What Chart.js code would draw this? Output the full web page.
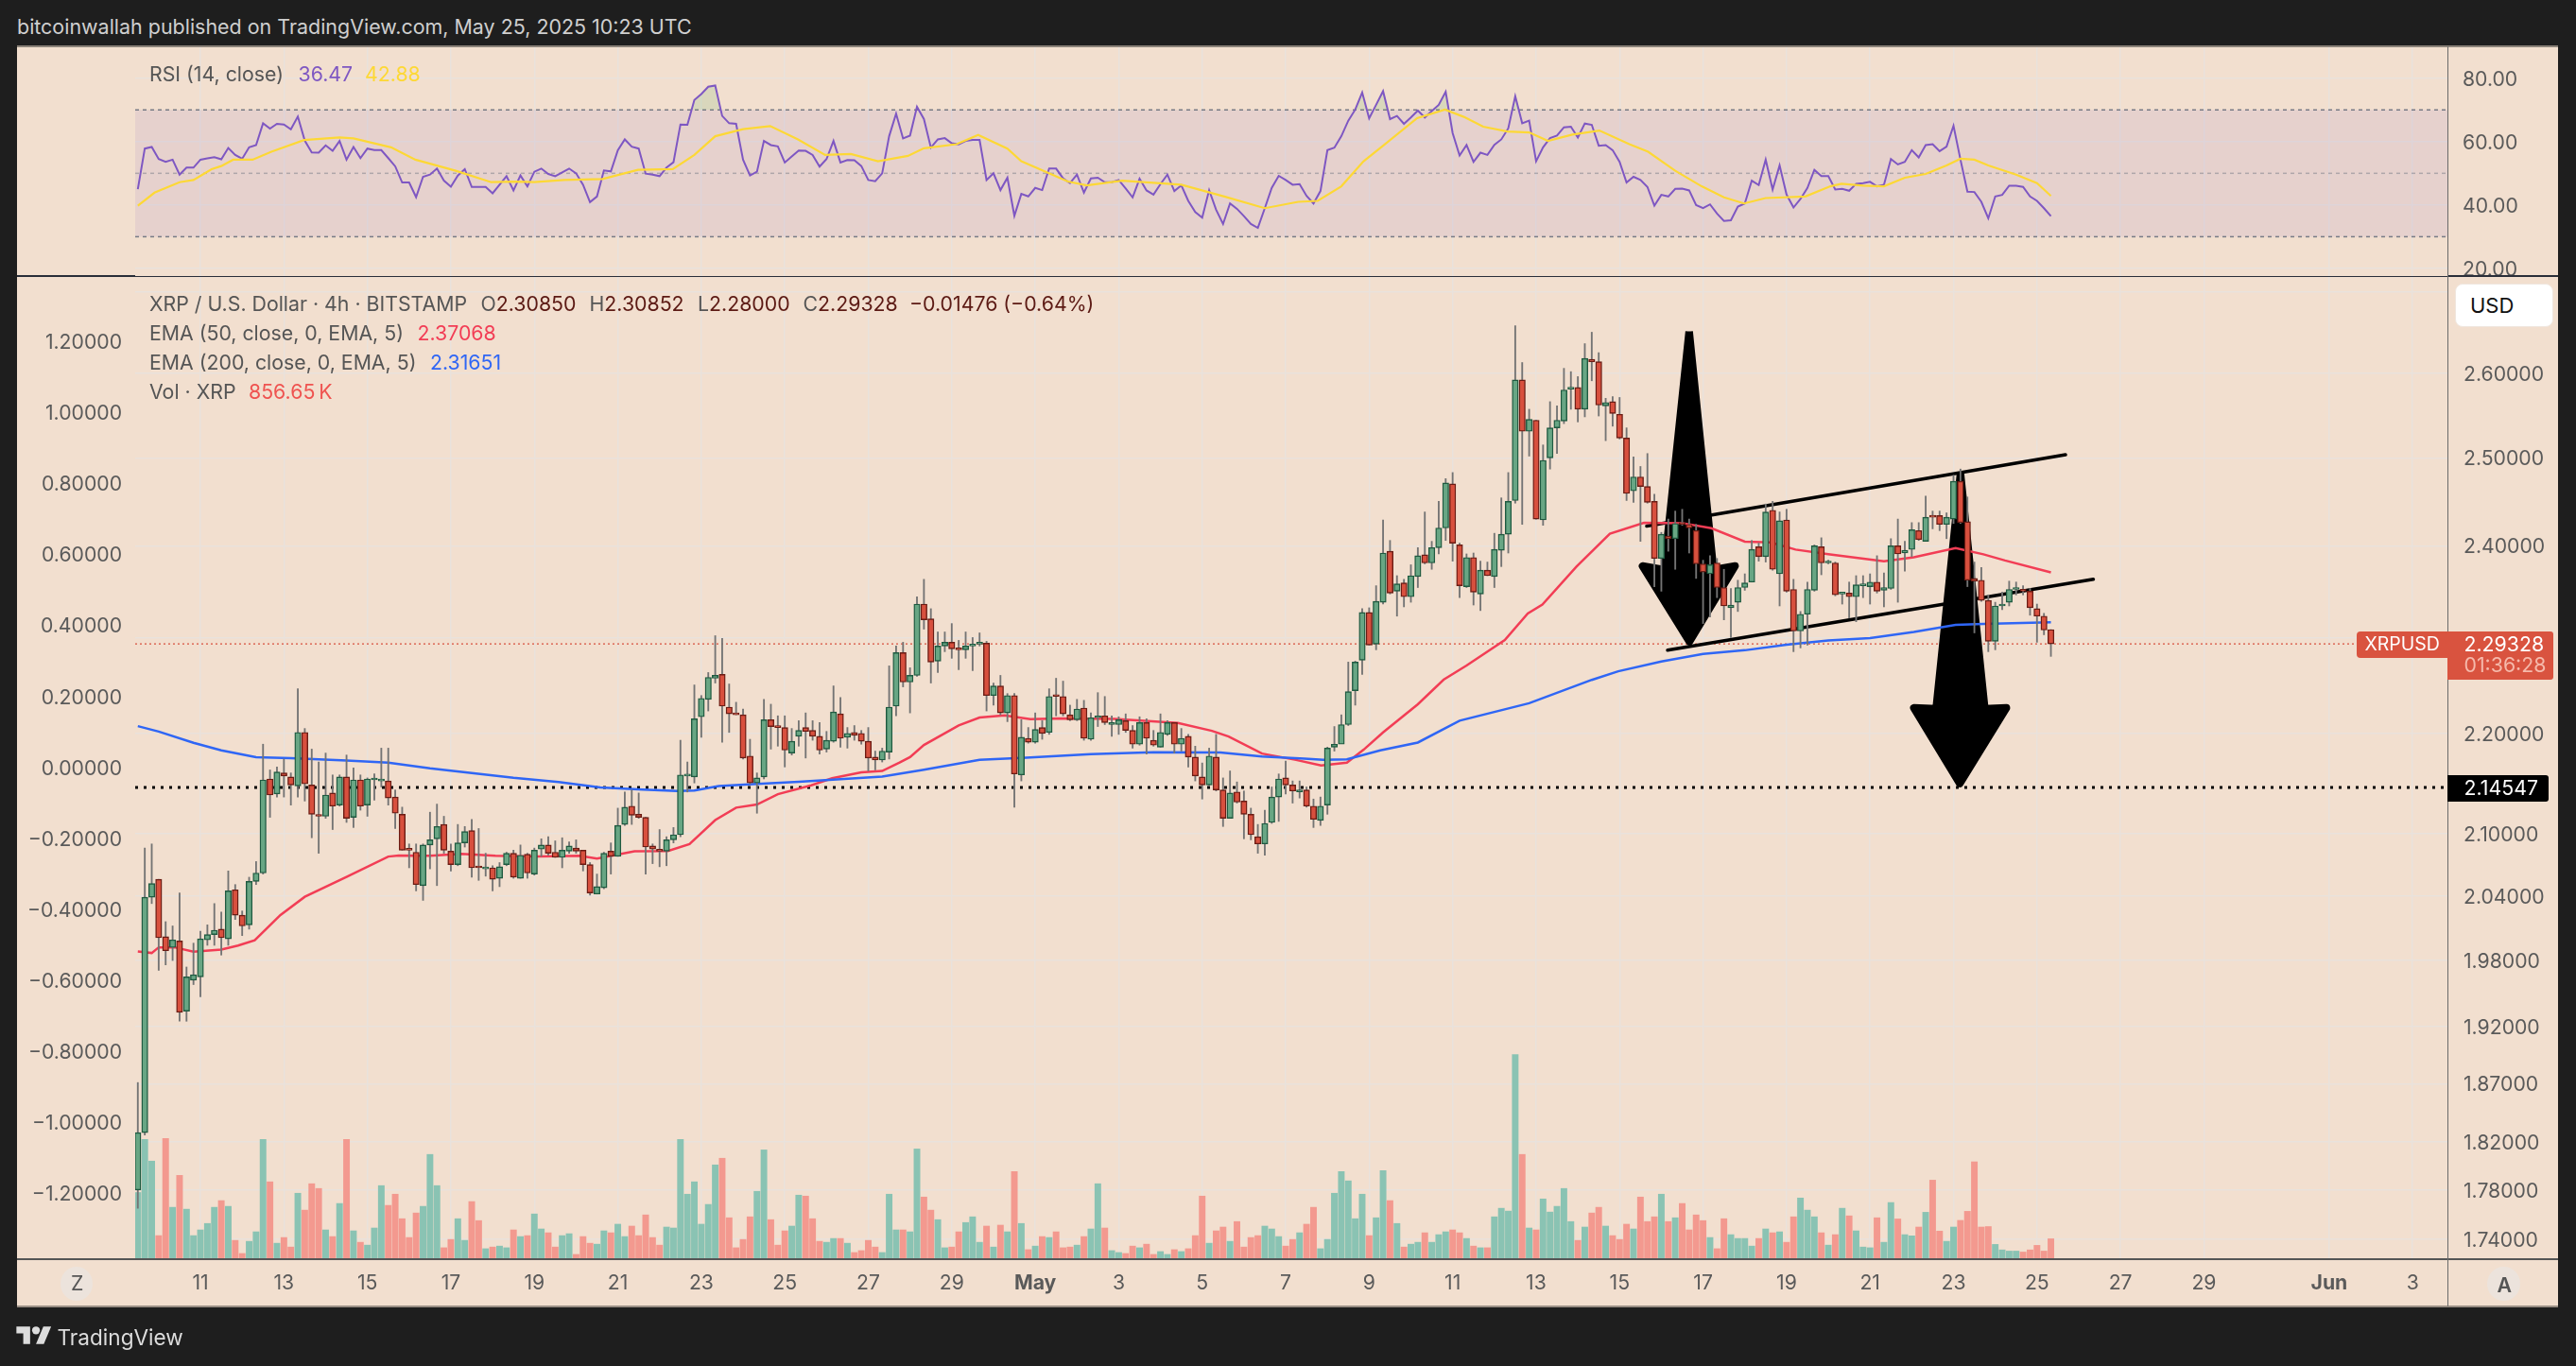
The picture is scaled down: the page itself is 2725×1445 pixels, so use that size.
<!doctype html>
<html><head><meta charset="utf-8">
<script src="https://cdn.jsdelivr.net/npm/chart.js@4/dist/chart.umd.js"></script>
<style>
html,body{margin:0;padding:0;background:#1e1e1e;width:2725px;height:1445px;overflow:hidden;font-family:Inter,"Noto Sans",sans-serif}
#panel{position:absolute;left:18px;top:49px;width:2688px;height:1333px;background:#f2dfcf}
canvas{position:absolute;display:block}
.t{position:absolute;white-space:pre;transform:translateY(-50%);line-height:1;font-size:21.3px;color:#555}
.l{position:absolute}
</style></head><body>
<div id="panel"></div>
<canvas id="rsiCanvas" width="2688" height="243" style="left:18px;top:49px;width:2688px;height:243px"></canvas>
<canvas id="mainCanvas" width="2688" height="1090" style="left:18px;top:292px;width:2688px;height:1090px"></canvas>
<div id="overlay"></div>
<script>
// ---------- data (4h bars, first bar 9 Apr 12:00 UTC) ----------
const open=[1.780,1.828,2.039,2.056,2.002,1.992,1.998,1.934,1.962,1.965,
1.999,2.004,2.009,2.000,2.046,2.022,2.013,2.054,2.062,2.154,
2.139,2.160,2.156,2.147,2.201,2.148,2.118,2.117,2.140,2.128,
2.156,2.116,2.153,2.128,2.153,2.152,2.152,2.136,2.119,2.085,
2.082,2.050,2.089,2.095,2.109,2.083,2.070,2.091,2.103,2.068,
2.066,2.067,2.057,2.070,2.081,2.057,2.080,2.061,2.085,2.089,
2.082,2.077,2.083,2.086,2.084,2.070,2.042,2.048,2.083,2.078,
2.109,2.127,2.119,2.116,2.088,2.085,2.083,2.094,2.099,2.157,
2.156,2.217,2.235,2.257,2.261,2.227,2.220,2.219,2.177,2.150,
2.156,2.214,2.208,2.206,2.180,2.197,2.206,2.203,2.197,2.184,
2.192,2.220,2.196,2.201,2.200,2.192,2.176,2.173,2.181,2.228,
2.284,2.253,2.260,2.336,2.320,2.275,2.291,2.295,2.289,2.287,
2.291,2.293,2.294,2.239,2.249,2.221,2.239,2.158,2.195,2.191,
2.206,2.201,2.239,2.238,2.219,2.214,2.226,2.194,2.216,2.218,
2.209,2.209,2.213,2.203,2.189,2.211,2.193,2.186,2.199,2.211,
2.189,2.197,2.176,2.156,2.148,2.176,2.143,2.115,2.141,2.132,
2.119,2.097,2.090,2.111,2.136,2.155,2.148,2.141,2.143,2.127,
2.113,2.128,2.186,2.189,2.209,2.244,2.276,2.327,2.293,2.338,
2.394,2.350,2.359,2.344,2.366,2.390,2.381,2.398,2.420,2.470,
2.401,2.355,2.387,2.347,2.373,2.366,2.395,2.413,2.451,2.592,
2.531,2.544,2.429,2.500,2.535,2.543,2.581,2.583,2.557,2.617,
2.614,2.561,2.566,2.551,2.523,2.462,2.478,2.467,2.450,2.386,
2.411,2.408,2.426,2.424,2.417,2.380,2.369,2.381,2.354,2.332,
2.338,2.354,2.360,2.399,2.388,2.440,2.369,2.429,2.352,2.307,
2.325,2.351,2.399,2.381,2.381,2.347,2.348,2.344,2.356,2.355,
2.360,2.351,2.353,2.400,2.392,2.396,2.417,2.405,2.433,2.434,
2.424,2.430,2.473,2.427,2.364,2.362,2.340,2.296,2.334,2.338,
2.352,2.352,2.350,2.331,2.323,2.3085];
const high=[1.871,2.086,2.090,2.056,2.016,2.012,2.043,1.974,1.996,2.007,
2.013,2.033,2.025,2.064,2.051,2.026,2.058,2.073,2.189,2.163,
2.166,2.174,2.160,2.246,2.205,2.184,2.171,2.180,2.158,2.158,
2.178,2.165,2.158,2.155,2.159,2.185,2.185,2.143,2.126,2.090,
2.090,2.090,2.121,2.129,2.117,2.090,2.109,2.107,2.114,2.105,
2.081,2.069,2.072,2.082,2.084,2.089,2.081,2.086,2.095,2.097,
2.093,2.096,2.092,2.094,2.084,2.072,2.061,2.082,2.091,2.125,
2.141,2.143,2.140,2.116,2.090,2.104,2.097,2.106,2.193,2.171,
2.250,2.239,2.263,2.302,2.299,2.251,2.232,2.225,2.194,2.160,
2.235,2.230,2.218,2.218,2.205,2.213,2.221,2.213,2.211,2.202,
2.249,2.237,2.206,2.208,2.203,2.206,2.182,2.185,2.270,2.291,
2.295,2.268,2.344,2.363,2.331,2.306,2.306,2.315,2.297,2.306,
2.300,2.305,2.296,2.252,2.260,2.241,2.241,2.214,2.206,2.221,
2.213,2.246,2.257,2.254,2.229,2.235,2.234,2.221,2.242,2.238,
2.218,2.217,2.220,2.208,2.217,2.215,2.203,2.220,2.213,2.211,
2.205,2.199,2.187,2.170,2.185,2.199,2.155,2.162,2.151,2.142,
2.125,2.109,2.123,2.146,2.159,2.172,2.152,2.152,2.146,2.134,
2.136,2.186,2.207,2.219,2.274,2.275,2.331,2.332,2.356,2.429,
2.406,2.367,2.363,2.379,2.398,2.438,2.405,2.450,2.476,2.483,
2.403,2.391,2.392,2.383,2.382,2.414,2.454,2.483,2.658,2.613,
2.557,2.544,2.515,2.566,2.561,2.606,2.602,2.596,2.636,2.650,
2.625,2.570,2.572,2.571,2.535,2.501,2.490,2.505,2.458,2.415,
2.430,2.439,2.441,2.430,2.424,2.384,2.389,2.386,2.374,2.353,
2.362,2.369,2.406,2.403,2.447,2.450,2.438,2.441,2.363,2.328,
2.360,2.401,2.409,2.384,2.382,2.348,2.360,2.367,2.367,2.369,
2.389,2.370,2.408,2.430,2.405,2.426,2.426,2.456,2.439,2.439,
2.437,2.480,2.487,2.455,2.382,2.376,2.346,2.338,2.349,2.361,
2.360,2.356,2.353,2.336,2.326,2.3085];
const low=[1.765,1.826,2.033,1.971,1.976,1.980,1.925,1.925,1.958,1.947,
1.994,1.994,1.985,1.994,2.018,2.003,2.009,2.051,2.061,2.116,
2.136,2.136,2.128,2.136,2.132,2.096,2.081,2.115,2.104,2.127,
2.111,2.106,2.123,2.117,2.133,2.146,2.128,2.105,2.084,2.067,
2.045,2.036,2.066,2.050,2.081,2.064,2.069,2.087,2.058,2.055,
2.059,2.045,2.049,2.069,2.057,2.057,2.057,2.060,2.078,2.079,
2.077,2.067,2.081,2.081,2.064,2.041,2.042,2.047,2.061,2.078,
2.108,2.109,2.115,2.061,2.071,2.068,2.069,2.091,2.097,2.141,
2.150,2.196,2.223,2.252,2.191,2.201,2.219,2.174,2.149,2.120,
2.154,2.184,2.187,2.166,2.178,2.187,2.175,2.193,2.179,2.181,
2.191,2.186,2.185,2.193,2.189,2.162,2.163,2.171,2.174,2.218,
2.248,2.221,2.259,2.309,2.252,2.263,2.285,2.278,2.266,2.278,
2.265,2.291,2.223,2.229,2.219,2.212,2.126,2.152,2.190,2.190,
2.194,2.199,2.218,2.218,2.213,2.213,2.193,2.193,2.207,2.209,
2.197,2.199,2.201,2.185,2.188,2.179,2.187,2.186,2.198,2.180,
2.182,2.166,2.152,2.134,2.147,2.142,2.107,2.115,2.130,2.095,
2.094,2.081,2.079,2.110,2.112,2.139,2.130,2.135,2.126,2.106,
2.108,2.119,2.182,2.203,2.208,2.229,2.261,2.292,2.287,2.336,
2.347,2.323,2.333,2.338,2.354,2.380,2.374,2.391,2.406,2.383,
2.343,2.354,2.335,2.329,2.367,2.354,2.377,2.392,2.448,2.424,
2.502,2.430,2.423,2.487,2.505,2.540,2.557,2.542,2.548,2.591,
2.549,2.520,2.537,2.522,2.451,2.449,2.405,2.448,2.355,2.350,
2.394,2.374,2.423,2.392,2.364,2.315,2.322,2.343,2.319,2.300,
2.328,2.351,2.360,2.383,2.382,2.373,2.334,2.349,2.285,2.289,
2.292,2.350,2.368,2.380,2.345,2.336,2.321,2.317,2.343,2.336,
2.348,2.333,2.352,2.338,2.372,2.388,2.406,2.405,2.419,2.417,
2.408,2.425,2.425,2.355,2.305,2.339,2.285,2.287,2.330,2.334,
2.346,2.346,2.324,2.295,2.303,2.280];
const close=[1.828,2.039,2.052,2.001,1.989,1.999,1.933,1.965,1.967,2.000,
2.004,2.008,2.001,2.045,2.022,2.012,2.054,2.062,2.153,2.138,
2.161,2.157,2.148,2.201,2.149,2.119,2.117,2.138,2.127,2.156,
2.115,2.153,2.127,2.154,2.153,2.153,2.135,2.120,2.084,2.084,
2.051,2.089,2.094,2.107,2.084,2.070,2.091,2.102,2.067,2.067,
2.067,2.056,2.068,2.081,2.058,2.079,2.062,2.084,2.089,2.081,
2.077,2.084,2.088,2.083,2.070,2.043,2.049,2.081,2.078,2.108,
2.126,2.118,2.116,2.087,2.085,2.083,2.094,2.099,2.158,2.157,
2.215,2.236,2.258,2.260,2.228,2.220,2.219,2.175,2.150,2.155,
2.214,2.207,2.206,2.183,2.192,2.203,2.202,2.197,2.183,2.193,
2.222,2.195,2.200,2.198,2.192,2.175,2.173,2.182,2.227,2.284,
2.253,2.260,2.336,2.319,2.274,2.291,2.295,2.288,2.287,2.291,
2.293,2.293,2.239,2.249,2.221,2.239,2.159,2.196,2.191,2.204,
2.200,2.238,2.238,2.220,2.214,2.225,2.195,2.216,2.218,2.211,
2.211,2.214,2.203,2.189,2.211,2.195,2.188,2.201,2.211,2.189,
2.195,2.176,2.157,2.148,2.177,2.143,2.115,2.140,2.131,2.119,
2.099,2.090,2.110,2.136,2.154,2.148,2.142,2.143,2.127,2.114,
2.127,2.185,2.189,2.209,2.243,2.274,2.327,2.292,2.339,2.392,
2.348,2.358,2.344,2.367,2.389,2.381,2.398,2.420,2.471,2.403,
2.356,2.387,2.349,2.373,2.367,2.396,2.413,2.450,2.592,2.531,
2.545,2.430,2.497,2.535,2.544,2.580,2.582,2.557,2.618,2.614,
2.562,2.565,2.552,2.523,2.459,2.478,2.467,2.449,2.386,2.413,
2.408,2.425,2.424,2.420,2.380,2.371,2.379,2.354,2.334,2.335,
2.354,2.359,2.396,2.388,2.438,2.374,2.428,2.350,2.307,2.325,
2.352,2.400,2.381,2.381,2.346,2.348,2.344,2.357,2.357,2.360,
2.350,2.354,2.400,2.391,2.395,2.418,2.407,2.432,2.432,2.424,
2.432,2.473,2.426,2.362,2.361,2.340,2.296,2.334,2.336,2.352,
2.353,2.350,2.332,2.323,2.308,2.29328];
// volume, millions of XRP
const volume=[2.80,5.03,4.12,0.99,5.07,2.18,3.52,2.10,0.99,1.23,
1.50,2.18,2.46,2.22,0.79,0.24,0.75,1.15,5.03,3.25,
0.67,0.91,0.51,2.77,2.06,3.17,2.97,1.23,0.95,2.34,
5.03,1.19,0.71,0.59,1.31,3.09,2.26,2.73,1.70,0.91,
1.94,2.22,4.40,3.09,0.48,0.83,1.70,0.79,2.42,1.62,
0.44,0.51,0.55,0.48,1.23,0.95,0.99,1.90,1.27,1.11,
0.51,0.99,1.07,0.20,0.95,0.67,0.63,1.19,1.11,1.47,
0.95,1.39,0.99,1.86,0.91,0.59,1.35,1.31,5.03,2.73,
3.25,1.47,2.30,3.96,4.24,1.74,0.48,0.83,1.78,2.85,
4.59,1.66,0.59,1.19,1.39,2.69,2.65,1.70,0.75,0.71,
0.87,0.87,0.67,0.28,0.36,0.79,0.51,0.28,2.73,1.23,
1.23,1.15,4.63,2.61,2.06,1.66,0.48,0.51,1.15,1.54,
1.78,0.71,1.39,0.51,1.43,1.15,3.68,1.50,0.40,0.55,
0.95,0.91,1.15,0.48,0.51,0.59,0.95,1.27,3.17,1.31,
0.36,0.28,0.24,0.55,0.48,0.63,0.20,0.32,0.20,0.40,
0.32,0.44,0.99,2.65,0.67,1.19,1.35,0.75,1.58,0.51,
0.91,0.99,1.39,1.27,0.95,0.55,0.83,1.11,1.47,2.18,
0.44,0.83,2.77,3.68,3.29,1.70,2.73,0.99,1.74,3.72,
2.46,1.50,0.51,0.63,0.71,1.11,0.71,1.03,1.15,1.23,
1.11,0.87,0.55,0.48,0.48,1.78,2.14,2.02,8.59,4.40,
1.31,1.23,2.53,1.98,2.22,2.97,1.58,0.79,1.35,1.94,
2.18,1.39,0.99,0.83,1.47,1.27,2.61,1.58,1.78,2.73,
1.58,1.74,2.34,1.23,1.86,1.62,0.91,0.44,1.70,1.03,
0.87,0.87,0.55,0.87,1.27,1.11,1.15,0.71,1.78,2.57,
2.06,1.78,1.11,0.59,1.03,2.14,1.82,1.19,0.51,0.48,
1.74,0.71,2.38,1.69,1.03,0.98,1.35,1.97,3.32,1.18,
0.75,1.35,1.63,2.01,4.09,1.35,1.37,0.62,0.39,0.34,
0.34,0.30,0.39,0.58,0.34,0.857];
const rsi=[45.0,57.8,58.3,54.5,53.6,54.3,49.6,51.8,51.8,54.3,
54.7,55.1,54.4,58.0,55.8,54.6,58.2,58.9,65.8,64.1,
65.6,65.4,63.9,67.9,60.3,56.6,56.5,58.8,57.1,60.2,
54.3,58.3,54.8,57.8,57.3,57.3,54.8,52.2,47.1,47.1,
42.5,48.9,49.6,51.5,47.7,45.8,49.3,51.3,45.7,45.7,
45.7,43.7,46.4,49.1,44.6,49.3,45.9,50.5,51.5,49.8,
49.1,50.3,51.5,50.0,46.4,40.9,42.7,50.9,50.6,57.3,
60.7,58.4,57.8,49.9,49.6,49.1,51.8,53.5,65.4,65.3,
73.1,75.0,77.3,77.7,68.1,65.8,65.6,54.3,49.3,50.5,
60.2,58.9,58.5,53.4,55.3,57.2,57.1,55.8,52.1,54.5,
60.2,53.4,54.2,54.1,52.3,47.9,47.5,50.0,61.7,68.8,
61.0,61.9,71.0,67.1,58.1,60.7,61.1,59.5,59.1,60.2,
60.5,60.5,47.9,50.0,44.7,48.6,36.6,43.5,42.7,45.4,
44.7,51.5,51.5,48.4,46.9,49.6,43.9,48.4,48.6,47.2,
47.2,47.9,45.2,42.4,48.3,44.6,43.3,46.6,49.6,44.4,
46.2,41.3,37.8,36.0,44.7,38.5,34.0,40.5,38.8,36.5,
34.0,32.8,39.0,45.4,49.2,47.9,46.4,46.6,42.9,40.5,
44.4,57.3,58.1,61.7,66.6,70.1,75.5,67.3,71.6,75.9,
67.1,68.1,65.6,67.6,69.8,67.6,69.6,71.6,75.7,62.7,
55.6,58.9,53.6,56.5,55.8,59.0,60.7,64.2,74.3,65.8,
66.6,53.8,58.2,61.1,61.9,64.5,64.7,61.3,65.7,65.3,
58.7,58.9,57.3,53.6,47.1,48.9,47.9,45.7,39.8,43.2,
42.7,45.1,45.2,44.6,40.0,39.0,40.2,37.3,35.0,35.2,
39.5,40.5,47.7,46.3,54.3,44.9,52.5,43.3,39.2,41.9,
45.4,51.1,49.1,49.1,44.9,45.1,44.5,46.7,46.9,47.3,
45.9,46.4,54.5,52.8,53.6,57.3,55.0,58.9,59.2,57.0,
58.4,65.0,54.3,44.2,44.1,41.0,35.8,42.7,43.2,46.1,
46.1,45.7,42.7,41.3,39.0,36.47];
// lines read at their turning points: bar index + value
const rsiMaBar=[0,2.4,6,8,10.6,12,13.7,16.5,19.2,23.9,29,31,36.4,39.9,45.7,50.8,54.3,57,61.3,66.8,71.9,76.9,80,83,87,90.9,94.9,98.8,102.5,106.4,110.7,113,117.7,120.8,125,127,133.7,136.4,141.5,150,156.3,162,166.8,169.6,173,176.2,179.3,183.9,187.9,190.6,193.4,196.9,200,202.7,206.2,210.1,214.4,217.1,221,224.8,228,230.9,234,239.7,243.3,244.9,248,251,254,257,260,262,264,266,270,273,275];
const rsiMa=[39.8,43.9,47.2,47.9,51.3,52.3,54.3,54.3,56.8,60.5,61.3,61,58.2,54.3,50.8,47.2,47.4,47.2,47.9,48.2,51.1,51.3,55.8,61.7,63.9,64.9,60.7,55.8,56.1,53.8,55.5,57.9,59.2,62.1,57.8,53.8,47.4,46.2,47.7,46.4,42.6,39,41,41.3,45.9,53.8,59.2,67.4,70.1,67.8,64.7,63.2,62.9,60.2,62.2,63.5,59.2,56.8,50.8,45.9,42.4,40.5,42.2,42.7,45.9,46.7,46.1,45.9,48.6,49.8,52.5,54.6,54.3,52.5,49.6,46.9,42.88];
const ema200Bar=[0,3,8,12,17,22,30,36,42,48,54,60.5,66.5,72.6,77.5,80,83.5,88.4,95,107,113,121,127.7,137,146,155.6,161.6,167.7,170.4,173.8,178.6,184,190,200,209,212.8,219,225,231,237,243,249,255.3,261.3,265.3,275];
const ema200=[2.2074,2.2019,2.1904,2.1828,2.1758,2.1749,2.1726,2.1704,2.1647,2.1600,2.1551,2.1510,2.1456,2.1434,2.1419,2.1425,2.1469,2.1488,2.1512,2.1564,2.1632,2.1731,2.1754,2.1789,2.1808,2.1805,2.1766,2.1743,2.1731,2.1737,2.1827,2.1907,2.2130,2.2310,2.2553,2.2643,2.2747,2.2825,2.2865,2.2925,2.2968,2.2995,2.3060,2.3137,2.3147,2.31651];
const ema50Bar=[0,2,3,5.3,8,12,14.4,16.8,20.5,24,30,36,37.5,42,46.5,51.4,57.4,63.5,66,71.4,76.2,79.3,83,86,89,92,96.8,99.8,104,107,109.5,111,113,118,121,124.6,128.3,132.5,140.4,149.5,154.4,156.8,161.6,166.5,170.1,173.8,176.2,179,184,187.7,191,196.5,199.8,201.9,206.8,211.6,216.5,222,226.2,231,234.7,238.3,243,251,255.3,261.3,265.3,268.4,275];
const ema50=[1.9884,1.9869,1.9921,1.9921,1.9881,1.9901,1.9938,1.9987,2.0222,2.0394,2.0583,2.0778,2.0787,2.0785,2.0803,2.0785,2.0778,2.0785,2.0758,2.0829,2.0832,2.0899,2.1133,2.1255,2.1286,2.1388,2.1476,2.1547,2.1605,2.1620,2.1704,2.1759,2.1882,2.2082,2.2163,2.2185,2.2145,2.2154,2.2148,2.2106,2.2026,2.1968,2.1795,2.1731,2.1674,2.1704,2.1834,2.2010,2.2299,2.2555,2.2704,2.2974,2.3258,2.3355,2.3769,2.4136,2.4257,2.4254,2.4197,2.4047,2.4039,2.3958,2.3906,2.3828,2.3872,2.3975,2.3906,2.3838,2.37068];
const targetPrice=2.14547, lastPrice=2.29328;
const channelUpBar=[216.9,277.1], channelUp=[2.4221,2.5036];
const channelLowBar=[219.9,281.1], channelLow=[2.2866,2.3630];
const arrow1Bar=[223.0,226.5,229.6,223.05,216.3,219.4,223.0], arrow1=[2.651,2.3734,2.3776,2.2956,2.3776,2.3734,2.651];
const arrow2Bar=[262.0,265.5,268.6,261.9,255.3,258.5,262.0], arrow2=[2.482,2.2252,2.2262,2.1494,2.2262,2.2252,2.482];
const priceTicks=[2.7,2.6,2.5,2.4,2.3,2.2,2.1,2.04,1.98,1.92,1.87,1.82,1.78,1.74];
const hiddenPriceLabels=[2.7,2.3]; // covered by the USD box and the last-price tag in the picture
const leftTicks=[1.2,1,0.8,0.6,0.4,0.2,0,-0.2,-0.4,-0.6,-0.8,-1,-1.2];
const rsiTicks=[80,60,40,20];
const timeTickBars=[9,21,33,45,57,69,81,93,105,117,129,141,153,165,177,189,201,213,225,237,249,261,273,285,297,315,327];
const timeTickLabels=['11','13','15','17','19','21','23','25','27','29','May','3','5','7','9','11','13','15','17','19','21','23','25','27','29','Jun','3'];

// ---------- styling ----------
Chart.defaults.font.family='Inter';
Chart.defaults.font.size=21.2;
Chart.defaults.color='#5a5a5a';
const gridColor='#e9e2dc';
const xMin=-0.38,xMax=332;
const bars=open.map((_,i)=>i);
const pts=(xs,ys)=>xs.map((x,i)=>({x,y:ys[i]}));
const up=i=>close[i]>=open[i];
const lineDs=(xs,ys,color,width,order,yAxisID,extra)=>Object.assign({type:'line',data:pts(xs,ys),borderColor:color,borderWidth:width,pointRadius:0,tension:0,fill:false,order,yAxisID},extra||{});
function xAxis(height,showLabels){return{type:'linear',min:xMin,max:xMax,offset:false,
  afterBuildTicks:s=>{s.ticks=timeTickBars.map(v=>({value:v}))},
  afterFit:s=>{s.height=height;s.paddingLeft=0;s.paddingRight=0;s.paddingTop=0;s.paddingBottom=0},
  grid:{color:gridColor,lineWidth:1.5,drawTicks:false,offset:false},border:{display:false},
  ticks:{display:showLabels,autoSkip:false,maxRotation:0,minRotation:0,padding:13,
    callback:v=>timeTickLabels[timeTickBars.indexOf(v)],
    font:c=>{const l=c.tick?timeTickLabels[timeTickBars.indexOf(c.tick.value)]:'';return{size:21.2,weight:(l==='May'||l==='Jun')?'700':'400'}}}}}
function yAxis(position,width,padding,list,fmt,opts){return Object.assign({position,
  afterBuildTicks:s=>{s.ticks=list.map(v=>({value:v}))},
  afterFit:s=>{s.width=width;s.paddingTop=0;s.paddingBottom=0;s.paddingLeft=0;s.paddingRight=0},
  border:{display:false},
  grid:{color:gridColor,lineWidth:1.5,drawTicks:false},
  ticks:{autoSkip:false,padding,labelOffset:1.5,callback:fmt}},opts)}

// ---------- RSI pane ----------
new Chart(document.getElementById('rsiCanvas'),{
 data:{datasets:[
  lineDs([xMin,xMax],[70,70],'#787b86',1.5,5,'y',{borderDash:[4,4],fill:{target:{value:30},above:'rgba(126,87,194,0.1)',below:'rgba(126,87,194,0.1)'}}),
  lineDs([xMin,xMax],[50,50],'rgba(120,123,134,0.5)',1.5,4,'y',{borderDash:[4,4]}),
  lineDs([xMin,xMax],[30,30],'#787b86',1.5,3,'y',{borderDash:[4,4]}),
  lineDs(bars,rsi,'#7e57c2',2,1,'y',{fill:{target:{value:70},above:'rgba(76,175,80,0.15)',below:'rgba(0,0,0,0)'}}),
  lineDs(rsiMaBar,rsiMa,'#fdd835',2.2,0,'y')
 ]},
 options:{responsive:false,animation:false,devicePixelRatio:1,
  layout:{padding:{left:125,right:0,top:0,bottom:0}},
  plugins:{legend:{display:false},tooltip:{enabled:false}},
  scales:{x:xAxis(0,false),
   y:yAxis('right',117,16,rsiTicks,v=>v.toFixed(2),{type:'linear',min:17.6,max:90.05})}}
});

// ---------- price pane ----------
const bodyFill=bars.map(i=>up(i)?'#68a684':'#d8503e');
const bodyEdge=bars.map(i=>up(i)?'#1f5a40':'#6b1c14');
new Chart(document.getElementById('mainCanvas'),{
 data:{datasets:[
  {type:'bar',data:bars.map(i=>({x:i,y:[open[i],close[i]]})),backgroundColor:bodyFill,borderColor:bodyEdge,borderWidth:1.4,borderSkipped:false,barThickness:6.5,minBarLength:2,grouped:false,order:1,yAxisID:'yr'},
  {type:'bar',data:bars.map(i=>({x:i,y:[low[i],high[i]]})),backgroundColor:'#747474',borderWidth:0,barThickness:1.2,grouped:false,order:2,yAxisID:'yr'},
  lineDs(ema200Bar,ema200,'#2f66f5',2.5,3,'yr'),
  lineDs(ema50Bar,ema50,'#f23d55',2.5,4,'yr'),
  lineDs(channelUpBar,channelUp,'#000',3.6,5,'yr',{borderCapStyle:'round'}),
  lineDs(channelLowBar,channelLow,'#000',3.6,5,'yr',{borderCapStyle:'round'}),
  lineDs(arrow1Bar,arrow1,'#000',8,6,'yr',{fill:'shape',backgroundColor:'#000',borderJoinStyle:'round'}),
  lineDs(arrow2Bar,arrow2,'#000',8,6,'yr',{fill:'shape',backgroundColor:'#000',borderJoinStyle:'round'}),
  lineDs([xMin,xMax],[targetPrice,targetPrice],'#000',3,7,'yr',{borderDash:[3,6]}),
  lineDs([xMin,xMax],[lastPrice,lastPrice],'#d8503e',1.2,8,'yr',{borderDash:[2,3]}),
  {type:'bar',data:bars.map(i=>({x:i,y:volume[i]})),backgroundColor:bars.map(i=>up(i)?'#8ac3b3':'#f3998f'),borderWidth:0,barThickness:6.3,grouped:false,order:9,yAxisID:'yv'}
 ]},
 options:{responsive:false,animation:false,devicePixelRatio:1,
  layout:{padding:0},
  plugins:{legend:{display:false},tooltip:{enabled:false}},
  scales:{x:xAxis(50,true),
   yr:yAxis('right',117,17,priceTicks,v=>hiddenPriceLabels.includes(v)?'':v.toFixed(5),{type:'logarithmic',bounds:'data',beginAtZero:false,min:1.7238,max:2.72}),
   yl:yAxis('left',125,14,leftTicks,v=>(v<0?'\u2212':'')+Math.abs(v).toFixed(5),{type:'linear',min:-1.385,max:1.384,grid:{display:false,drawTicks:false}}),
   yv:{type:'linear',display:false,min:0,max:41.3}}}
});

// ---------- frame and text overlays ----------
const ov=document.getElementById('overlay');
function rect(x,y,w,h,bg,extra){const d=document.createElement('div');d.className='l';d.style.cssText=`left:${x}px;top:${y}px;width:${w}px;height:${h}px;background:${bg};${extra||''}`;ov.appendChild(d);return d}
function text(x,y,s,color,extra){const d=document.createElement('div');d.className='t';d.textContent=s;d.style.cssText=`left:${x}px;top:${y}px;color:${color||'#555'};${extra||''}`;ov.appendChild(d);return d}
rect(18,48,2688,1.5,'#8b8279');
rect(18,1381,2688,1.5,'#9a8f85');
rect(143,291.5,2446,1.5,'#2a2e39');
rect(18,290.5,125,2.5,'#2a2e39');
rect(2589,290.5,117,2.5,'#2a2e39');
rect(143,1331,2446,2,'#555');
rect(18,1331,125,2,'#555');
rect(2589,1331,117,2,'#555');
rect(2589,49,1.2,1333,'#6a6a6a');
// pane legends
text(158,79,'RSI (14, close)');
text(315.5,79,'36.47','#7e57c2');
text(386,79,'42.88','#fdd835');
text(158,322,'XRP / U.S. Dollar \u00b7 4h \u00b7 BITSTAMP');
[[508.5,'O','2.30850'],[623.5,'H','2.30852'],[738,'L','2.28000'],[849.5,'C','2.29328']].forEach(r=>{
  const d=text(r[0],322,r[1]);const s=document.createElement('span');s.textContent=r[2];s.style.color='#5c1a14';d.appendChild(s)});
text(962,322,'\u22120.01476 (\u22120.64%)','#5c1a14');
text(158,353,'EMA (50, close, 0, EMA, 5)');text(441.5,353,'2.37068','#f23d55');
text(158,383.5,'EMA (200, close, 0, EMA, 5)');text(455,383.5,'2.31651','#2f66f5');
text(158,415,'Vol \u00b7 XRP');text(263,415,'856.65\u2009K','#ef5350');
// axis tags
rect(2596.5,300,104.5,46,'#fff','border-radius:8px;border:1px solid #efe6de;box-sizing:border-box');
text(2613,323,'USD','#111','font-size:22px');
rect(2493,667.5,96,28.5,'#d9533f','border-radius:4px 0 0 4px');
text(2501.5,681.5,'XRPUSD','#fff','font-size:19.5px');
rect(2589,667.5,112,51,'#d9533f','border-radius:0 3px 3px 0');
text(2606.5,681.5,'2.29328','#fff');
text(2606.5,703.5,'01:36:28','#f5b9ab');
rect(2589,819.5,107,28.5,'#000','border-radius:0 3px 3px 0');
text(2606.5,833.5,'2.14547','#fff');
// corner buttons
rect(64,1340,34,36,'#ece3dc','border-radius:50%');
text(75,1358,'Z','#555');
rect(2631,1340,35,36,'#ece3dc','border-radius:50%');
text(2641.5,1359.5,'A','#555','font-weight:600');
// header and footer
text(18,28.5,'bitcoinwallah published on TradingView.com, May 25, 2025 10:23 UTC','#cfcfcf','font-size:21.45px');
const ns='http://www.w3.org/2000/svg';
const svg=document.createElementNS(ns,'svg');svg.setAttribute('viewBox','0 0 36 28');svg.setAttribute('width','38');svg.setAttribute('height','29');
svg.style.cssText='position:absolute;left:17px;top:1399px';
svg.innerHTML='<path fill="#dcdcdc" d="M14 22H7V11H0V4h14v18zM28 22h-8l7.5-18h8L28 22z"/><circle fill="#dcdcdc" cx="20" cy="8" r="4"/>';
ov.appendChild(svg);
text(60.5,1415,'TradingView','#dcdcdc','font-size:22.6px');
</script></body></html>
